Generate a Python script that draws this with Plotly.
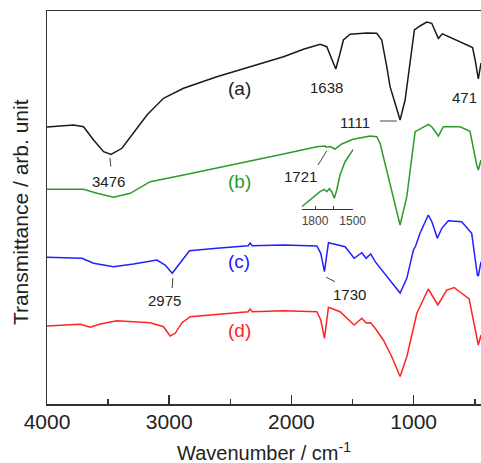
import plotly.graph_objects as go

# ---- data (transmittance in arbitrary units) ----
wn_a = [4000, 3891, 3782, 3701, 3619, 3537, 3476, 3387, 3292, 3182, 3047, 2883, 2610, 2338, 2065,
        1902, 1765, 1711, 1670, 1637, 1602, 1575, 1520, 1383, 1302, 1261, 1220, 1193, 1152, 1111,
        1070, 1029, 994, 948, 893, 852, 798, 764, 518, 497, 471, 449]
t_a = [277, 278, 279, 277.3, 264, 252.3, 249.5, 255.7, 270.7, 289, 305.7, 315.7, 327.3, 337.3, 347.3,
       354.7, 359.7, 357.3, 344, 335, 350.7, 364, 369.7, 371, 370.7, 364, 337.3, 317.3, 300.7, 284,
       304, 344, 374, 378, 382, 380.7, 365.7, 370.2, 356.5, 344, 325, 341]

wn_b = [4000, 3701, 3591, 3455, 3319, 3155, 2883, 2610, 2338, 2065, 1792, 1724, 1716, 1684, 1643,
        1588, 1495, 1356, 1302, 1275, 1220, 1166, 1111, 1056, 1015, 988, 879, 852, 798, 757,
        620, 539, 484, 471, 449]
t_b = [214.7, 214.7, 210.7, 206.7, 210.7, 222.3, 229, 235.7, 243, 250, 257.3, 258, 256.8, 257.5, 255,
       260, 264.7, 268, 267.3, 260.7, 234, 207.3, 179, 207.3, 247.3, 272.3, 279.7, 277.3, 268, 277.3,
       277.3, 272.7, 239, 234, 244]

# inset (expanded 1900-1500 region of b)
wn_inset = [1906, 1814, 1760, 1726, 1707, 1686, 1667, 1646, 1627, 1601, 1561, 1495]
t_inset = [197.3, 207.3, 212.3, 214.7, 212.3, 215.3, 212.3, 205.7, 214, 229, 242.3, 254.7]

wn_c = [4000, 3714, 3619, 3455, 3292, 3101, 3033, 2975, 2924, 2883, 2834, 2610, 2354, 2338, 2321,
        2065, 1792, 1760, 1730, 1697, 1629, 1561, 1487, 1424, 1389, 1351, 1315, 1248, 1193, 1111,
        1056, 1002, 984, 948, 880, 850, 806, 770, 716, 607, 525, 479, 471, 449]
t_c = [146.7, 145.7, 140.7, 137.3, 140, 144, 139, 130.7, 139, 145.7, 153.3, 155.7, 158.3, 161, 158.3,
       159, 158, 150.7, 132.3, 161.3, 159, 157.3, 145.7, 151.3, 145.7, 150, 142.3, 132.3, 124, 111,
       125.7, 154, 158, 170.7, 189, 182, 165.7, 175.7, 183.3, 182.3, 170.7, 129, 128, 142.3]

wn_d = [4000, 3728, 3646, 3564, 3428, 3155, 3047, 2992, 2951, 2896, 2828, 2610, 2354, 2338, 2321,
        2065, 1792, 1760, 1730, 1697, 1602, 1487, 1424, 1389, 1351, 1315, 1248, 1179, 1111, 1056,
        974, 880, 802, 729, 669, 546, 471, 449]
t_d = [78, 79.7, 76.7, 80, 83.3, 81.3, 77.3, 68, 70.7, 81.3, 87.3, 89.7, 92.3, 95, 92.3,
       93.3, 92.3, 84, 65.7, 96.7, 92.3, 79, 85.7, 81, 81.3, 75.7, 64, 47.3, 27.5, 47.3,
       90.7, 115, 99, 114, 116.5, 105, 59, 69]

x_ticks = [4000, 3000, 2000, 1000]
x_minor = [3500, 2500, 1500, 500]
inset_ticks = [1800, 1500]
inset_minor = [1650]

series_labels = ["(a)", "(b)", "(c)", "(d)"]
label_T = [315.7, 222.3, 142.3, 74]
colors = ["#1a1a1a", "#2a9a2a", "#2020ff", "#ff2424"]

peak_labels = ["3476", "1638", "1111", "471", "1721", "2975", "1730"]
peak_x = [3496, 1716, 1480, 580, 1923, 3041, 1528]
peak_y = [222.3, 316.7, 281.3, 306.7, 227.3, 103.3, 110]

# pointer lines (x0, y0, x1, y1) in wavenumber / arb. unit
pointers = [(3485, 246, 3478, 237.5),
            (1275, 283, 1138, 283),
            (1782, 239, 1711, 253.3),
            (2970, 126, 2976, 116),
            (1716, 126.7, 1643, 122.3)]

FONT = "Liberation Sans, Arial, sans-serif"

fig = go.Figure()
for wn, t, c in [(wn_a, t_a, colors[0]), (wn_b, t_b, colors[1]), (wn_c, t_c, colors[2]), (wn_d, t_d, colors[3])]:
    fig.add_trace(go.Scatter(x=wn, y=t, mode="lines", line=dict(color=c, width=1.5),
                             showlegend=False, hoverinfo="skip"))

fig.add_trace(go.Scatter(x=wn_inset, y=t_inset, mode="lines", line=dict(color=colors[1], width=1.5),
                         xaxis="x2", yaxis="y2", showlegend=False, hoverinfo="skip"))

annotations = []
for lab, ty, c in zip(series_labels, label_T, colors):
    annotations.append(dict(x=2428, y=ty, xref="x", yref="y", text=lab, showarrow=False,
                            font=dict(family=FONT, size=19, color=c)))
for lab, px, py in zip(peak_labels, peak_x, peak_y):
    annotations.append(dict(x=px, y=py, xref="x", yref="y", text=lab, showarrow=False,
                            font=dict(family=FONT, size=15, color="#222")))

# axis titles (paper coords: plot spans x 47..481 px, y 11..404 px)
annotations.append(dict(x=0.5, y=-0.1203, xref="paper", yref="paper", yanchor="middle",
                        text="Wavenumber / cm<sup>-1</sup>", showarrow=False,
                        font=dict(family=FONT, size=20, color="#222")))
annotations.append(dict(x=-0.062, y=0.4885, xref="paper", yref="paper", xanchor="center",
                        yanchor="middle", text="Transmittance / arb. unit",
                        showarrow=False, textangle=-90,
                        font=dict(family=FONT, size=21, color="#222")))

shapes = [dict(type="line", xref="x", yref="y", x0=p[0], y0=p[1], x1=p[2], y1=p[3],
               line=dict(color="#444", width=1)) for p in pointers]

fig.update_layout(
    width=481, height=463,
    margin=dict(l=47, r=0, t=11, b=59),
    plot_bgcolor="rgba(0,0,0,0)", paper_bgcolor="white",
    font=dict(family=FONT, color="#222"),
    annotations=annotations,
    shapes=shapes,
    hovermode=False,
    xaxis=dict(range=[4000, 449], tickvals=x_ticks, ticks="inside", ticklen=9, tickwidth=1.5,
               tickcolor="#333", showline=True, linecolor="#333", linewidth=1.5, mirror=True,
               showgrid=False, zeroline=False, tickfont=dict(family=FONT, size=21, color="#222"),
               ticklabelstandoff=-2, automargin=False,
               minor=dict(tickvals=x_minor, ticks="inside", ticklen=5, tickwidth=1.5, tickcolor="#333")),
    yaxis=dict(range=[0, 393], showticklabels=False, ticks="", showline=True, linecolor="#333",
               linewidth=1.5, showgrid=False, zeroline=False, automargin=False),
    xaxis2=dict(domain=[0.5869, 0.7058], range=[1906, 1495], anchor="y2", tickvals=inset_ticks,
                ticks="inside", ticklen=3, tickwidth=1, tickcolor="#333",
                showline=True, linecolor="#333", linewidth=1, showgrid=False, zeroline=False,
                automargin=False, tickfont=dict(family=FONT, size=12, color="#444"),
                minor=dict(tickvals=inset_minor, ticks="inside", ticklen=3, tickwidth=1, tickcolor="#333")),
    yaxis2=dict(domain=[0.4954, 0.66], range=[194.7, 259.4], anchor="x2", visible=False,
                automargin=False),
)

# remove the browser's default 8px body margin so the figure sits at the page origin
fig.write_html("out.html", config={"displayModeBar": False, "staticPlot": True},
               post_script="document.body.style.margin='0';document.body.style.overflow='hidden';")
